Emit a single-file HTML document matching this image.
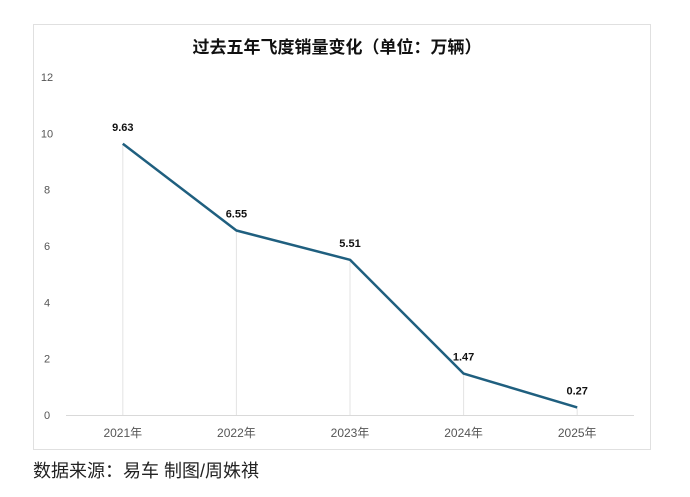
<!DOCTYPE html>
<html><head><meta charset="utf-8"><style>
body{margin:0;background:#fff;width:690px;height:492px;overflow:hidden;font-family:"Liberation Sans","Noto Sans CJK SC",sans-serif}
</style></head><body>
<svg width="690" height="492">
<rect x="33.5" y="24.5" width="617" height="425" fill="#fff" stroke="#e0e0e0"/>
<text x="337" y="53" text-anchor="middle" font-size="17" font-weight="bold" fill="#111" font-family="Liberation Sans,Noto Sans CJK SC,sans-serif">过去五年飞度销量变化（单位：万辆）</text>
<g id="yaxis"></g><g id="drops"></g><g id="xaxis"></g><g id="series"></g>
<text x="33" y="477" font-size="18" fill="#222" font-family="Liberation Sans,Noto Sans CJK SC,sans-serif">数据来源：易车 制图/周姝祺</text>
</svg>
<script>
const categories=["2021年","2022年","2023年","2024年","2025年"];
const sales=[9.63,6.55,5.51,1.47,0.27];
const valueLabels=["9.63","6.55","5.51","1.47","0.27"];
const yTicks=[0,2,4,6,8,10,12];
const NS="http://www.w3.org/2000/svg";
const x0=66,x1=634,y0=415,y1=77,ymax=12;
const bw=(x1-x0)/categories.length;
function xs(i){return x0+bw*(i+0.5);}
function ys(v){return y0-(v/ymax)*(y0-y1);}
function mk(tag,attrs,parent,txt){const e=document.createElementNS(NS,tag);for(const k in attrs)e.setAttribute(k,attrs[k]);if(txt!=null)e.textContent=txt;document.getElementById(parent).appendChild(e);return e;}
yTicks.forEach(t=>{
 const e=mk("text",{x:47,y:ys(t)+4,"text-anchor":"middle","font-size":"11",fill:"#555"},"yaxis",t);
 
 
});
const ax=mk("line",{x1:x0,x2:x1,y1:y0+0.5,y2:y0+0.5,stroke:"#d9d9d9"},"xaxis");


categories.forEach((c,i)=>{
 const t=mk("text",{x:xs(i),y:437,"text-anchor":"middle","font-size":"12",fill:"#555","font-family":"Liberation Sans,Noto Sans CJK SC,sans-serif"},"xaxis",c);
 
 
 const d=mk("line",{x1:xs(i),x2:xs(i),y1:ys(sales[i]),y2:y0,stroke:"#e3e3e3"},"drops");
 
 
});
const pts=sales.map((v,i)=>xs(i)+","+ys(v)).join(" ");
const pl=mk("polyline",{points:pts,fill:"none",stroke:"#1f5f7f","stroke-width":"2.5","stroke-linejoin":"round"},"series");


sales.forEach((v,i)=>{
 const l=mk("text",{x:xs(i),y:ys(v)-13,"text-anchor":"middle","font-size":"11","font-weight":"bold",fill:"#111"},"series",valueLabels[i]);
 
 
});
</script>
</body></html>
